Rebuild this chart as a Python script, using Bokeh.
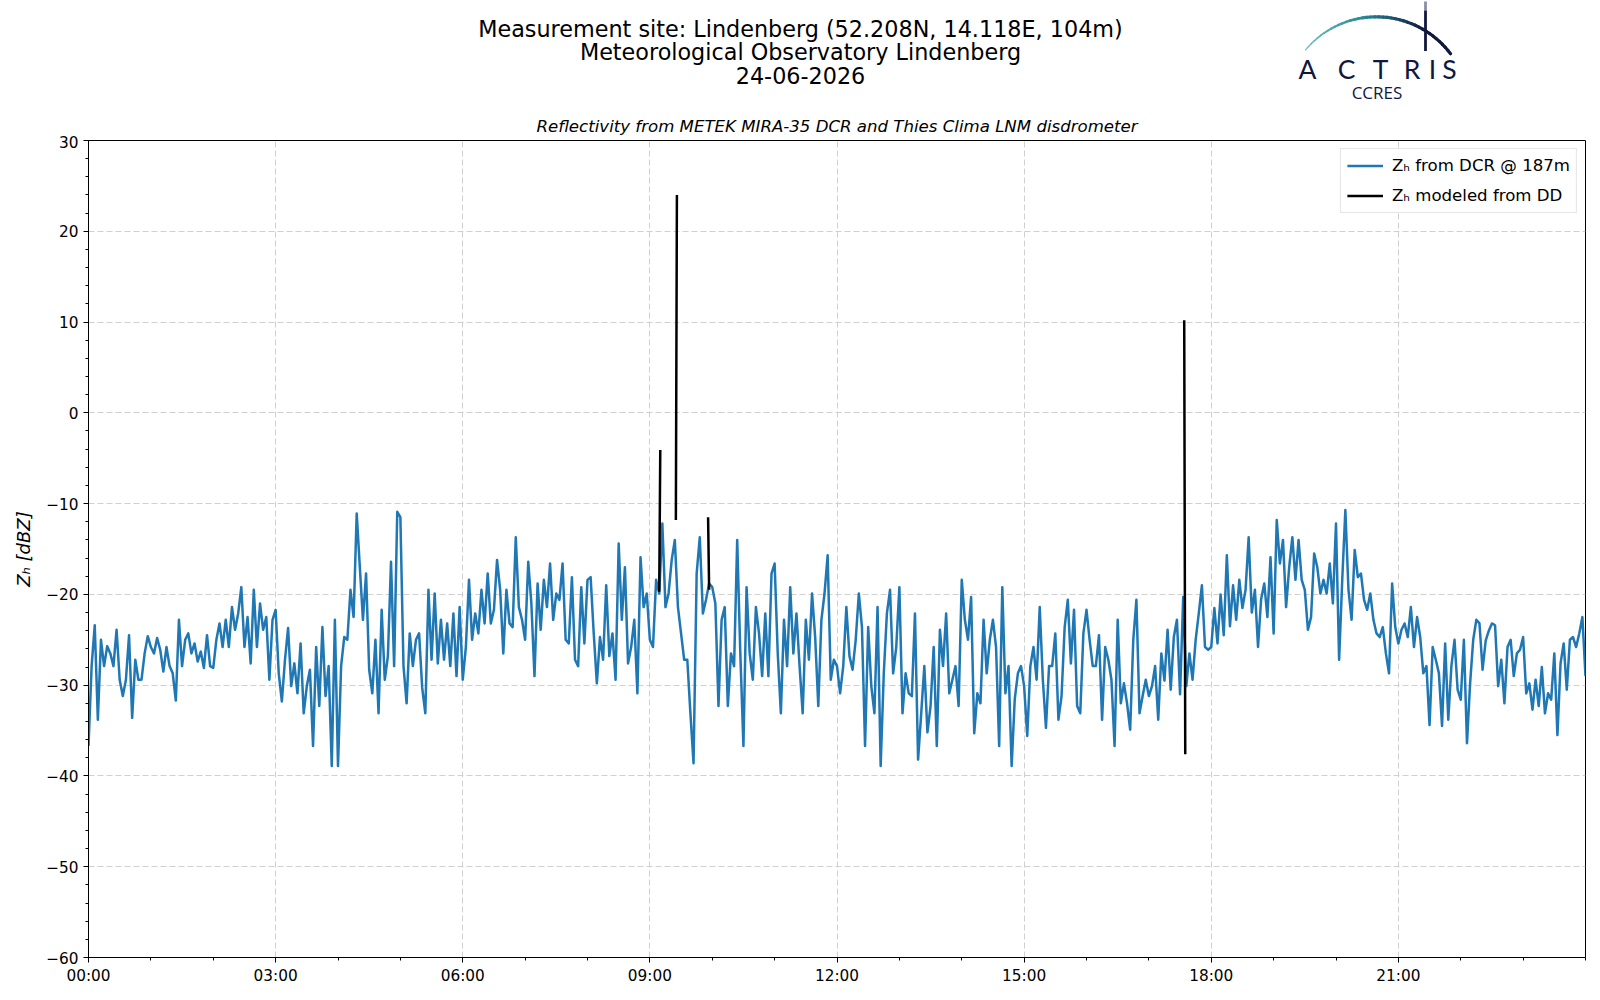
import numpy as np
from bokeh.plotting import figure
from bokeh.layouts import column
from bokeh.models import Range1d, FixedTicker, Legend, LegendItem
from bokeh.core.properties import value
from bokeh.embed import file_html
from bokeh.resources import INLINE

# ---------------- texts ----------------
TITLE_LINES = ["Measurement site: Lindenberg (52.208N, 14.118E, 104m)",
               "Meteorological Observatory Lindenberg",
               "24-06-2026"]
SUBTITLE = "Reflectivity from METEK MIRA-35 DCR and Thies Clima LNM disdrometer"
Y_LABEL = "Z\u2095 [dBZ]"
LEGEND_DCR = "Z\u2095 from DCR @ 187m"
LEGEND_DD = "Z\u2095 modeled from DD"

X_TICK_HOURS = [0, 3, 6, 9, 12, 15, 18, 21]
X_TICK_LABELS = ["00:00", "03:00", "06:00", "09:00", "12:00", "15:00", "18:00", "21:00"]
Y_TICKS = [-60, -50, -40, -30, -20, -10, 0, 10, 20, 30]
Y_TICK_LABELS = ["\u221260", "\u221250", "\u221240", "\u221230", "\u221220", "\u221210", "0", "10", "20", "30"]

# ---------------- data ----------------
DCR_STEP_MIN = 3  # sampling step of the DCR series (minutes), starting 00:00

zh_dcr_00_06 = [
    -36.7, -27.9, -23.4, -33.8, -25.0, -27.9, -25.7, -26.5, -27.9, -23.9, -29.4, -31.2, -29.4, -24.5, -33.6, -27.2, -29.4, -29.4, -26.5, -24.6,
    -25.8, -26.5, -24.8, -26.1, -28.5, -25.8, -27.9, -28.7, -31.7, -22.8, -27.9, -25.0, -24.3, -26.5, -25.4, -27.4, -26.3, -28.1, -24.5, -27.9,
    -28.1, -25.0, -23.2, -25.8, -22.8, -25.8, -21.4, -23.9, -22.1, -19.2, -25.8, -22.5, -27.6, -19.5, -25.8, -21.0, -23.9, -22.5, -29.4, -22.8,
    -21.7, -28.7, -31.8, -27.2, -23.7, -30.1, -27.6, -30.9, -25.4, -33.1, -30.1, -28.3, -36.7, -25.8, -32.3, -23.6, -31.2, -27.9, -38.9, -22.8,
    -38.9, -27.9, -24.7, -25.0, -19.5, -22.5, -11.1, -17.0, -22.8, -17.7, -28.3, -30.9, -25.0, -33.1, -21.7, -29.4, -26.8, -16.4, -27.9, -10.9,
    -11.5, -27.9, -32.0, -24.3, -27.9, -25.0, -24.3, -30.3, -33.1, -19.5, -27.2, -19.9, -27.6, -22.8, -27.2, -23.2, -27.9, -22.1, -29.0, -21.4,
]
zh_dcr_06_12 = [
    -29.4, -25.8, -18.4, -25.0, -22.1, -24.3, -19.5, -23.2, -17.7, -23.2, -21.7, -16.2, -19.5, -26.5, -19.5, -23.2, -23.6, -13.7, -21.4, -22.8,
    -25.0, -16.4, -21.0, -29.0, -18.8, -23.9, -18.4, -21.4, -16.6, -22.8, -19.9, -20.6, -16.6, -25.0, -25.4, -18.1, -27.2, -27.9, -19.2, -25.4,
    -18.4, -18.1, -24.3, -29.8, -24.7, -27.2, -19.0, -26.8, -24.3, -29.4, -14.4, -22.8, -17.0, -27.6, -25.8, -22.8, -30.9, -15.9, -21.4, -19.9,
    -25.0, -25.8, -18.4, -19.9, -12.2, -21.4, -19.9, -16.2, -14.0, -21.4, -24.3, -27.2, -27.2, -33.1, -38.6, -17.7, -13.7, -22.1, -20.6, -18.8,
    -19.2, -21.0, -32.3, -22.8, -21.4, -32.3, -26.5, -27.9, -14.0, -26.5, -36.7, -19.2, -26.5, -29.4, -21.4, -24.3, -29.0, -22.1, -29.0, -17.7,
    -16.6, -26.5, -33.1, -22.8, -27.9, -19.2, -26.5, -22.1, -27.9, -33.1, -22.8, -27.2, -19.9, -24.7, -32.3, -22.8, -19.9, -15.7, -29.4, -27.2,
]
zh_dcr_12_18 = [
    -27.9, -30.9, -27.9, -21.4, -26.8, -28.3, -25.0, -19.9, -23.6, -36.7, -23.6, -30.1, -33.1, -21.4, -38.9, -28.7, -22.1, -19.5, -28.7, -25.8,
    -19.2, -33.1, -28.7, -30.9, -31.2, -22.1, -38.2, -33.1, -27.9, -35.2, -32.3, -25.8, -36.7, -23.9, -27.9, -22.1, -30.9, -29.4, -27.9, -32.3,
    -18.4, -22.8, -25.0, -20.3, -35.3, -30.9, -32.0, -22.8, -28.7, -25.0, -22.8, -25.8, -36.7, -19.2, -30.9, -27.9, -38.9, -31.5, -28.7, -27.9,
    -30.1, -35.6, -27.9, -25.8, -29.4, -21.4, -29.4, -34.7, -27.9, -27.9, -24.3, -33.8, -31.2, -23.6, -20.6, -27.6, -21.7, -32.3, -33.1, -24.3,
    -21.7, -25.0, -27.9, -27.9, -24.5, -33.8, -25.8, -27.2, -29.4, -36.7, -22.8, -32.0, -29.8, -32.0, -34.9, -25.0, -20.6, -33.1, -31.2, -29.4,
    -31.2, -30.1, -27.9, -33.8, -26.5, -29.5, -23.9, -30.5, -24.7, -22.8, -31.0, -20.3, -30.1, -26.5, -29.4, -25.0, -22.1, -19.0, -25.8, -26.1,
]
zh_dcr_18_24 = [
    -25.8, -21.5, -25.4, -20.0, -24.5, -15.7, -23.5, -19.0, -22.8, -18.4, -21.5, -19.5, -13.7, -22.0, -19.5, -25.8, -20.5, -18.8, -22.5, -15.9,
    -24.3, -11.8, -16.6, -14.0, -21.4, -17.0, -13.7, -18.4, -14.0, -18.4, -19.5, -23.9, -22.5, -15.5, -17.0, -19.9, -18.4, -19.9, -16.6, -21.0,
    -12.2, -27.2, -18.4, -10.7, -19.5, -22.8, -15.1, -18.1, -17.7, -20.6, -21.7, -19.9, -22.8, -24.3, -24.7, -23.6, -26.5, -28.7, -18.8, -23.6,
    -25.4, -23.9, -23.2, -24.7, -21.4, -25.8, -22.5, -24.7, -28.7, -27.9, -34.4, -25.8, -27.2, -28.7, -34.5, -25.4, -33.8, -27.9, -25.0, -30.5,
    -31.6, -25.0, -36.4, -29.8, -25.0, -22.8, -23.2, -28.3, -25.1, -24.0, -23.2, -23.4, -30.1, -27.2, -32.0, -25.8, -25.0, -29.0, -26.5, -26.1,
    -24.7, -30.9, -29.8, -32.7, -29.4, -32.3, -28.0, -33.1, -30.9, -31.6, -26.5, -35.5, -27.6, -25.4, -30.5, -25.0, -24.7, -25.8, -24.3, -22.5,
    -29.0,
]

# disdrometer-modelled reflectivity: only a few valid minutes, grouped in runs
dd_time = ["09:09", "09:10", "09:25", "09:26", "09:56", "09:57", "17:34", "17:35"]
dd_zh = [-19.7, -4.1, -11.8, 24.0, -11.5, -19.5, 10.2, -37.6]
dd_run = [0, 0, 1, 1, 2, 2, 3, 3]

# ---------------- build series ----------------
zh_dcr = zh_dcr_00_06 + zh_dcr_06_12 + zh_dcr_12_18 + zh_dcr_18_24
t_dcr = [i * DCR_STEP_MIN / 60.0 for i in range(len(zh_dcr))]


def hhmm_to_hours(s):
    h, m = s.split(":")
    return int(h) + int(m) / 60.0


dd_x, dd_y = [], []
prev = None
for t, z, r in zip(dd_time, dd_zh, dd_run):
    if prev is not None and r != prev:
        dd_x.append(np.nan)
        dd_y.append(np.nan)
    dd_x.append(hhmm_to_hours(t))
    dd_y.append(z)
    prev = r

FONT_NAME = "DejaVu Sans"
FONT = value(FONT_NAME)
W = 1600
BL, BR = 88, 15          # left / right borders (frame spans 88..1585 px)

# ---------------- header (titles + logo), drawn in page-pixel coordinates ----------------
HH = 135
h = figure(width=W, height=HH, x_range=Range1d(BL, W - BR), y_range=Range1d(HH, 0),
           output_backend="svg", toolbar_location=None, x_axis_type=None, y_axis_type=None,
           min_border_left=BL, min_border_right=BR, min_border_top=0, min_border_bottom=0)
h.grid.visible = False
h.outline_line_color = None
h.background_fill_color = "white"
h.border_fill_color = "white"

h.text(x=[800, 800, 800], y=[28.8, 51.3, 74.5], text=TITLE_LINES, text_align="center",
       text_baseline="middle", text_font=FONT, text_font_size="22.3px", text_color="black")
h.text(x=[836.5], y=[125.5], text=[SUBTITLE], text_align="center", text_baseline="middle",
       text_font=FONT, text_font_size="16.6px", text_font_style="italic", text_color="black")

# logo: arc with colour gradient
cx, cy, rad = 1376.0, 109.0, 92.7
angles = np.linspace(np.radians(139.9), np.radians(37.0), 41)
c0 = np.array([0x70, 0xc4, 0xc2])
c1 = np.array([0x2c, 0x8c, 0x9a])
c2 = np.array([0x10, 0x18, 0x3e])
xs0, ys0, xs1, ys1, cols, wids = [], [], [], [], [], []
n = len(angles) - 1
for i in range(n):
    f = i / (n - 1)
    if f < 0.4:
        c = c0 + (c1 - c0) * (f / 0.4)
    else:
        c = c1 + (c2 - c1) * min(1.0, (f - 0.4) / 0.4)
    cols.append("#%02x%02x%02x" % tuple(int(v) for v in c))
    wids.append(1.3 + 1.9 * min(1.0, f / 0.45))
    xs0.append(cx + rad * np.cos(angles[i]))
    ys0.append(cy - rad * np.sin(angles[i]))
    xs1.append(cx + rad * np.cos(angles[i + 1]))
    ys1.append(cy - rad * np.sin(angles[i + 1]))
h.segment(x0=xs0, y0=ys0, x1=xs1, y1=ys1, line_color=cols, line_width=wids, line_cap="round")
h.segment(x0=[1425.0, 1425.0], y0=[1.0, 10.0], x1=[1425.0, 1425.0], y1=[10.0, 50.5],
          line_color=["#8a8fa8", "#10183e"], line_width=2.8)

logo_letters = ["A", "C", "T", "R", "I", "S"]
logo_x = [1307.0, 1346.0, 1380.0, 1411.5, 1432.0, 1449.0]
h.text(x=logo_x, y=[68.0] * 6, text=logo_letters, text_align="center", text_baseline="middle",
       text_font=value("Lato"), text_font_size="26.5px", text_color="#10183e")
h.text(x=[1376.5], y=[92.3], text=["CCRES"], text_align="center", text_baseline="middle",
       text_font=value("Open Sans"), text_font_size="17px", text_color="#10183e")

# ---------------- main plot ----------------
p = figure(width=W, height=852, x_range=Range1d(0, 24), y_range=Range1d(-60, 30),
           output_backend="svg", toolbar_location=None,
           min_border_left=BL, min_border_right=BR, min_border_top=5, min_border_bottom=30)
p.background_fill_color = "white"
p.outline_line_color = "black"
p.outline_line_width = 1

r_dcr = p.line(t_dcr, zh_dcr, line_color="#1f77b4", line_width=2.5, line_join="round")
r_dd = p.line(dd_x, dd_y, line_color="black", line_width=2.5)

xt = FixedTicker(ticks=X_TICK_HOURS, minor_ticks=list(range(0, 25)))
yt = FixedTicker(ticks=Y_TICKS, minor_ticks=list(range(-60, 31, 2)))
p.xaxis.ticker = xt
p.yaxis.ticker = yt
p.xgrid.ticker = xt
p.ygrid.ticker = yt
p.xaxis.major_label_overrides = {k: v for k, v in zip(X_TICK_HOURS, X_TICK_LABELS)}
p.yaxis.major_label_overrides = {k: v for k, v in zip(Y_TICKS, Y_TICK_LABELS)}

for ax in (p.xaxis, p.yaxis):
    ax.axis_line_color = "black"
    ax.major_tick_line_color = "black"
    ax.minor_tick_line_color = "black"
    ax.major_tick_out = 5
    ax.major_tick_in = 0
    ax.minor_tick_out = 3
    ax.minor_tick_in = 0
    ax.major_label_text_font = FONT_NAME
    ax.major_label_text_font_size = "15.3px"
    ax.major_label_text_color = "black"
p.xaxis.major_label_standoff = 4
p.yaxis.major_label_standoff = 5
p.yaxis.axis_label = Y_LABEL
p.yaxis.axis_label_text_font = FONT_NAME
p.yaxis.axis_label_text_font_size = "18px"
p.yaxis.axis_label_text_font_style = "italic"
p.yaxis.axis_label_text_color = "black"
p.yaxis.axis_label_standoff = 9

for g in (p.xgrid, p.ygrid):
    g.grid_line_color = "#d0d0d0"
    g.grid_line_dash = "6 3"
    g.grid_line_width = 1

legend = Legend(items=[LegendItem(label=LEGEND_DCR, renderers=[r_dcr]),
                       LegendItem(label=LEGEND_DD, renderers=[r_dd])],
                location="top_right")
legend.label_text_font = FONT_NAME
legend.label_text_font_size = "16.6px"
legend.label_text_color = "black"
legend.border_line_color = "#cccccc"
legend.border_line_width = 1
legend.background_fill_alpha = 0.85
legend.glyph_width = 36
legend.glyph_height = 21
legend.label_height = 21
legend.label_standoff = 9
legend.spacing = 9
legend.padding = 6
legend.margin = 8
p.add_layout(legend)

layout = column(h, p, spacing=0)
open("out.html", "w").write(file_html(layout, INLINE))
